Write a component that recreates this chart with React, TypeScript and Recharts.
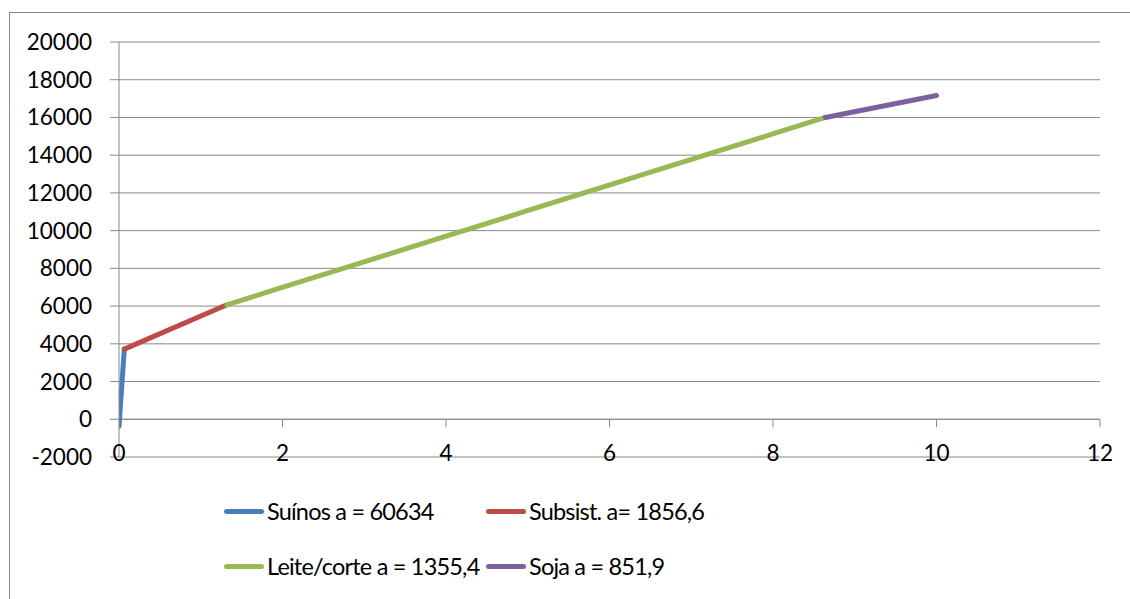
import { LineChart, Line, XAxis, YAxis, CartesianGrid, ReferenceLine, Legend } from 'recharts';

// segment endpoints (x, y)
const suinosX = [0, 0.065];
const suinosY = [-370, 3720];
const subsistX = [0.065, 1.32];
const subsistY = [3720, 6070];
const leiteX = [1.32, 8.64];
const leiteY = [6070, 16000];
const sojaX = [8.64, 10];
const sojaY = [16000, 17160];

const xTicks = [0, 2, 4, 6, 8, 10, 12];
const yTicks = [-2000, 0, 2000, 4000, 6000, 8000, 10000, 12000, 14000, 16000, 18000, 20000];

const SERIES = [
  { name: 'Suínos a = 60634', color: '#4A7EBB', xs: suinosX, ys: suinosY },
  { name: 'Subsist. a= 1856,6', color: '#BE4B48', xs: subsistX, ys: subsistY },
  { name: 'Leite/corte a = 1355,4', color: '#98B954', xs: leiteX, ys: leiteY },
  { name: 'Soja a = 851,9', color: '#7D60A0', xs: sojaX, ys: sojaY },
];

const FONT = 'Lato, "Open Sans", sans-serif';
const GRID = '#898989';

function LegendBox() {
  return (
    <div style={{ position: 'relative', height: 116, fontFamily: FONT, fontSize: 23.5, letterSpacing: -0.8, color: '#000' }}>
      {SERIES.map((s, i) => {
        const left = i % 2 === 0 ? 214 : 476;
        const top = i < 2 ? 24 : 79;
        return (
          <div key={s.name} style={{ position: 'absolute', left, top: top - 15, height: 30, display: 'flex', alignItems: 'center', whiteSpace: 'nowrap' }}>
            <span style={{ display: 'inline-block', width: 40, height: 5, borderRadius: 3, background: s.color, marginRight: 3 }} />
            <span>{s.name}</span>
          </div>
        );
      })}
    </div>
  );
}

function XTick(props: any) {
  const { x, y, payload } = props;
  return (
    <text x={x} y={y} dy={4} textAnchor="middle" fill="#000" fontSize={22.5} fontFamily={FONT}>
      {payload.value}
    </text>
  );
}

export default function App() {
  return (
    <div style={{ position: 'fixed', left: 9, top: 12, width: 1130, height: 600, border: `1px solid ${GRID}`, background: '#fff' }}>
      <LineChart width={1120} height={590} margin={{ top: 29, right: 30, left: 0, bottom: 0 }}>
        <CartesianGrid vertical={false} stroke={GRID} strokeWidth={1} />
        <XAxis
          type="number"
          dataKey="x"
          domain={[0, 12]}
          ticks={xTicks}
          allowDataOverflow
          axisLine={false}
          tickLine={false}
          tickSize={0}
          tickMargin={0}
          height={30}
          tick={<XTick />}
        />
        <YAxis
          type="number"
          domain={[-2000, 20000]}
          ticks={yTicks}
          width={109}
          axisLine={{ stroke: GRID }}
          tickLine={{ stroke: GRID }}
          tickSize={9}
          tickMargin={18}
          tick={{ fill: '#000', fontSize: 22.5, fontFamily: FONT }}
        />
        <ReferenceLine y={0} stroke={GRID} />
        {xTicks.slice(1).map(t => (
          <ReferenceLine key={t} segment={[{ x: t, y: 0 }, { x: t, y: -420 }]} stroke={GRID} />
        ))}
        {SERIES.map(s => (
          <Line
            key={s.name}
            name={s.name}
            data={s.xs.map((x, i) => ({ x, y: s.ys[i] }))}
            dataKey="y"
            stroke={s.color}
            strokeWidth={5}
            strokeLinecap="round"
            dot={false}
            isAnimationActive={false}
          />
        ))}
        <Legend verticalAlign="bottom" height={116} content={() => <LegendBox />} />
      </LineChart>
    </div>
  );
}
